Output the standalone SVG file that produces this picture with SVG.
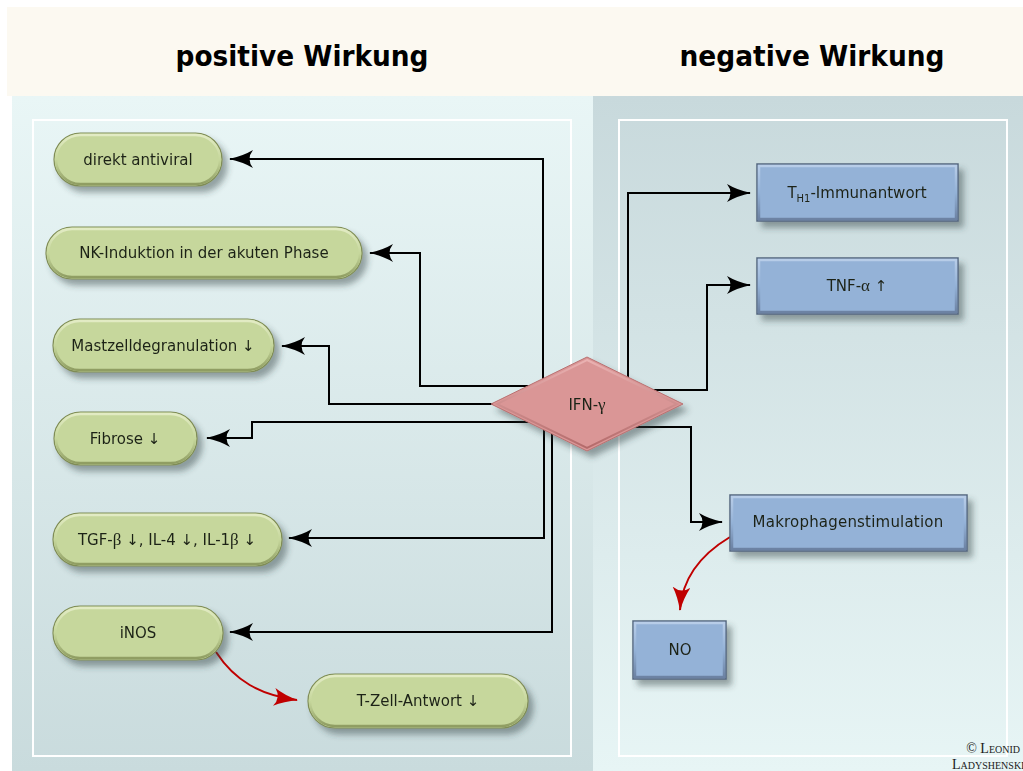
<svg xmlns="http://www.w3.org/2000/svg" width="1023" height="771" viewBox="0 0 1023 771">
  <defs>
    <linearGradient id="gradLeft" x1="0" y1="0" x2="0" y2="1">
      <stop offset="0" stop-color="#e9f6f6"/>
      <stop offset="1" stop-color="#c9dbdd"/>
    </linearGradient>
    <linearGradient id="gradRight" x1="0" y1="0" x2="0" y2="1">
      <stop offset="0" stop-color="#c8d9dc"/>
      <stop offset="1" stop-color="#e7f5f5"/>
    </linearGradient>
    <linearGradient id="bevelGreen" x1="0" y1="0" x2="0" y2="1">
      <stop offset="0" stop-color="#e2ebc4"/>
      <stop offset="0.5" stop-color="#c6d79c"/>
      <stop offset="1" stop-color="#8f9d62"/>
    </linearGradient>
    <linearGradient id="bevelBlue" x1="0" y1="0" x2="0" y2="1">
      <stop offset="0" stop-color="#b8cde8"/>
      <stop offset="0.5" stop-color="#94b2d7"/>
      <stop offset="1" stop-color="#6c82a3"/>
    </linearGradient>
    <linearGradient id="bevelRed" x1="0" y1="0" x2="0" y2="1">
      <stop offset="0" stop-color="#eab2b2"/>
      <stop offset="1" stop-color="#b46a6a"/>
    </linearGradient>
    <filter id="shadow" x="-20%" y="-30%" width="150%" height="180%">
      <feGaussianBlur in="SourceAlpha" stdDeviation="3"/>
      <feOffset dx="5" dy="6" result="off"/>
      <feFlood flood-color="#2f3f40" flood-opacity="0.45"/>
      <feComposite in2="off" operator="in"/>
      <feMerge>
        <feMergeNode/>
        <feMergeNode in="SourceGraphic"/>
      </feMerge>
    </filter>
    <marker id="arrowK" markerUnits="userSpaceOnUse" markerWidth="24" markerHeight="18" viewBox="0 0 24 18" refX="23" refY="9" orient="auto">
      <path d="M0,0 Q10,6 24,9 Q10,12 0,18 Q7,9 0,0 Z" fill="#000"/>
    </marker>
    <marker id="arrowR" markerUnits="userSpaceOnUse" markerWidth="24" markerHeight="18" viewBox="0 0 24 18" refX="23" refY="9" orient="auto">
      <path d="M0,0 Q10,6 24,9 Q10,12 0,18 Q7,9 0,0 Z" fill="#c00000"/>
    </marker>
  </defs>
  <style>
    .title { font-family: "DejaVu Sans Condensed", "DejaVu Sans", sans-serif; font-stretch: condensed; font-weight: bold; font-size: 28px; fill: #000; text-anchor: middle; }
    .pill { fill: #c6d79c; stroke: #7f8c56; stroke-width: 1.2; }
    .pillBevel { fill: none; stroke: url(#bevelGreen); stroke-width: 2.5; }
    .box { fill: #94b2d7; stroke: #56677f; stroke-width: 1.5; }
    .boxBevel { fill: none; stroke: url(#bevelBlue); stroke-width: 2.5; }
    .label { font-family: "DejaVu Sans", Verdana, sans-serif; font-size: 15px; fill: #1e2418; text-anchor: middle; }
    .greek { font-family: "Liberation Serif", "DejaVu Serif", serif; font-size: 17px; }
    .conn { fill: none; stroke: #000; stroke-width: 2; }
    .red { fill: none; stroke: #c00000; stroke-width: 2; }
    .frame { fill: none; stroke: #ffffff; stroke-width: 2; }
    .copy { font-family: "Liberation Serif", serif; font-variant: small-caps; font-size: 14px; fill: #1a1a1a; }
  </style>

  <!-- page background -->
  <rect x="0" y="0" width="1023" height="771" fill="#ffffff"/>
  <rect x="7" y="7" width="1016" height="89" fill="#fcf9f1"/>
  <rect x="12" y="96" width="581" height="675" fill="url(#gradLeft)"/>
  <rect x="593" y="96" width="430" height="675" fill="url(#gradRight)"/>
  <rect class="frame" x="33" y="120" width="538" height="636"/>
  <rect class="frame" x="619" y="120" width="388" height="636"/>

  <text class="title" x="302" y="66" textLength="253" lengthAdjust="spacingAndGlyphs">positive Wirkung</text>
  <text class="title" x="812" y="66" textLength="265" lengthAdjust="spacingAndGlyphs">negative Wirkung</text>

  <!-- connectors -->
  <g id="connectors">
    <path class="conn" d="M543,395 V159 H230" marker-end="url(#arrowK)"/>
    <path class="conn" d="M540,386 H420 V253 H370" marker-end="url(#arrowK)"/>
    <path class="conn" d="M500,404 H329 V346 H282" marker-end="url(#arrowK)"/>
    <path class="conn" d="M540,422 H252 V438 H207" marker-end="url(#arrowK)"/>
    <path class="conn" d="M544,415 V538 H289" marker-end="url(#arrowK)"/>
    <path class="conn" d="M552,420 V632 H230" marker-end="url(#arrowK)"/>
    <path class="conn" d="M628,395 V193 H750" marker-end="url(#arrowK)"/>
    <path class="conn" d="M640,390 H707 V285 H750" marker-end="url(#arrowK)"/>
    <path class="conn" d="M630,427 H691 V522 H722" marker-end="url(#arrowK)"/>
    <path class="red" d="M216,652 C235,681 260,695 297,700" marker-end="url(#arrowR)"/>
    <path class="red" d="M730,537 C700,555 682,580 680,610" marker-end="url(#arrowR)"/>
  </g>

  <!-- central node -->
  <g id="ifn" filter="url(#shadow)">
    <polygon points="587,357 683,404 587,451 491,404" fill="#da9696" stroke="#b97272" stroke-width="1"/>
    <polygon points="587,360 677,404 587,448 497,404" fill="none" stroke="url(#bevelRed)" stroke-width="2"/>
    <text class="label" x="587" y="410">IFN-<tspan class="greek">γ</tspan></text>
  </g>

  <!-- positive effects -->
  <g id="antiviral" filter="url(#shadow)">
    <rect class="pill" x="54" y="133" width="168" height="53" rx="26.5"/>
    <rect class="pillBevel" x="56" y="135" width="164" height="49" rx="24.5"/>
    <text class="label" x="138" y="165">direkt antiviral</text>
  </g>
  <g id="nk" filter="url(#shadow)">
    <rect class="pill" x="46" y="227" width="316" height="52" rx="26"/>
    <rect class="pillBevel" x="48" y="229" width="312" height="48" rx="24"/>
    <text class="label" x="204" y="258">NK-Induktion in der akuten Phase</text>
  </g>
  <g id="mastzell" filter="url(#shadow)">
    <rect class="pill" x="53" y="319" width="221" height="53" rx="26.5"/>
    <rect class="pillBevel" x="55" y="321" width="217" height="49" rx="24.5"/>
    <text class="label" x="163" y="351">Mastzelldegranulation ↓</text>
  </g>
  <g id="fibrose" filter="url(#shadow)">
    <rect class="pill" x="54" y="412" width="143" height="53" rx="26.5"/>
    <rect class="pillBevel" x="56" y="414" width="139" height="49" rx="24.5"/>
    <text class="label" x="125" y="444">Fibrose ↓</text>
  </g>
  <g id="cytokine" filter="url(#shadow)">
    <rect class="pill" x="53" y="513" width="229" height="53" rx="26.5"/>
    <rect class="pillBevel" x="55" y="515" width="225" height="49" rx="24.5"/>
    <text class="label" x="167" y="545">TGF-<tspan class="greek">β</tspan> ↓, IL-4 ↓, IL-1<tspan class="greek">β</tspan> ↓</text>
  </g>
  <g id="inos" filter="url(#shadow)">
    <rect class="pill" x="53" y="606" width="170" height="54" rx="27"/>
    <rect class="pillBevel" x="55" y="608" width="166" height="50" rx="25"/>
    <text class="label" x="138" y="638">iNOS</text>
  </g>
  <g id="tzell" filter="url(#shadow)">
    <rect class="pill" x="308" y="674" width="220" height="54" rx="27"/>
    <rect class="pillBevel" x="310" y="676" width="216" height="50" rx="25"/>
    <text class="label" x="418" y="706">T-Zell-Antwort ↓</text>
  </g>

  <!-- negative effects -->
  <g id="th1" filter="url(#shadow)">
    <rect class="box" x="757" y="164" width="201" height="57"/>
    <rect class="boxBevel" x="759" y="166" width="197" height="53"/>
    <text class="label" x="857" y="198">T<tspan font-size="10" dy="4">H1</tspan><tspan dy="-4">-Immunantwort</tspan></text>
  </g>
  <g id="tnf" filter="url(#shadow)">
    <rect class="box" x="757" y="258" width="201" height="56"/>
    <rect class="boxBevel" x="759" y="260" width="197" height="52"/>
    <text class="label" x="857" y="291">TNF-<tspan class="greek">α</tspan> ↑</text>
  </g>
  <g id="makrophagen" filter="url(#shadow)">
    <rect class="box" x="730" y="495" width="237" height="56"/>
    <rect class="boxBevel" x="732" y="497" width="233" height="52"/>
    <text class="label" x="848" y="527" font-size="12.5" letter-spacing="0.2">Makrophagenstimulation</text>
  </g>
  <g id="no" filter="url(#shadow)">
    <rect class="box" x="633" y="621" width="93" height="58"/>
    <rect class="boxBevel" x="635" y="623" width="89" height="54"/>
    <text class="label" x="680" y="655">NO</text>
  </g>

  <text class="copy" x="1020" y="753" text-anchor="end">© Leonid</text>
  <text class="copy" x="952" y="769">Ladyshenski</text>
</svg>
